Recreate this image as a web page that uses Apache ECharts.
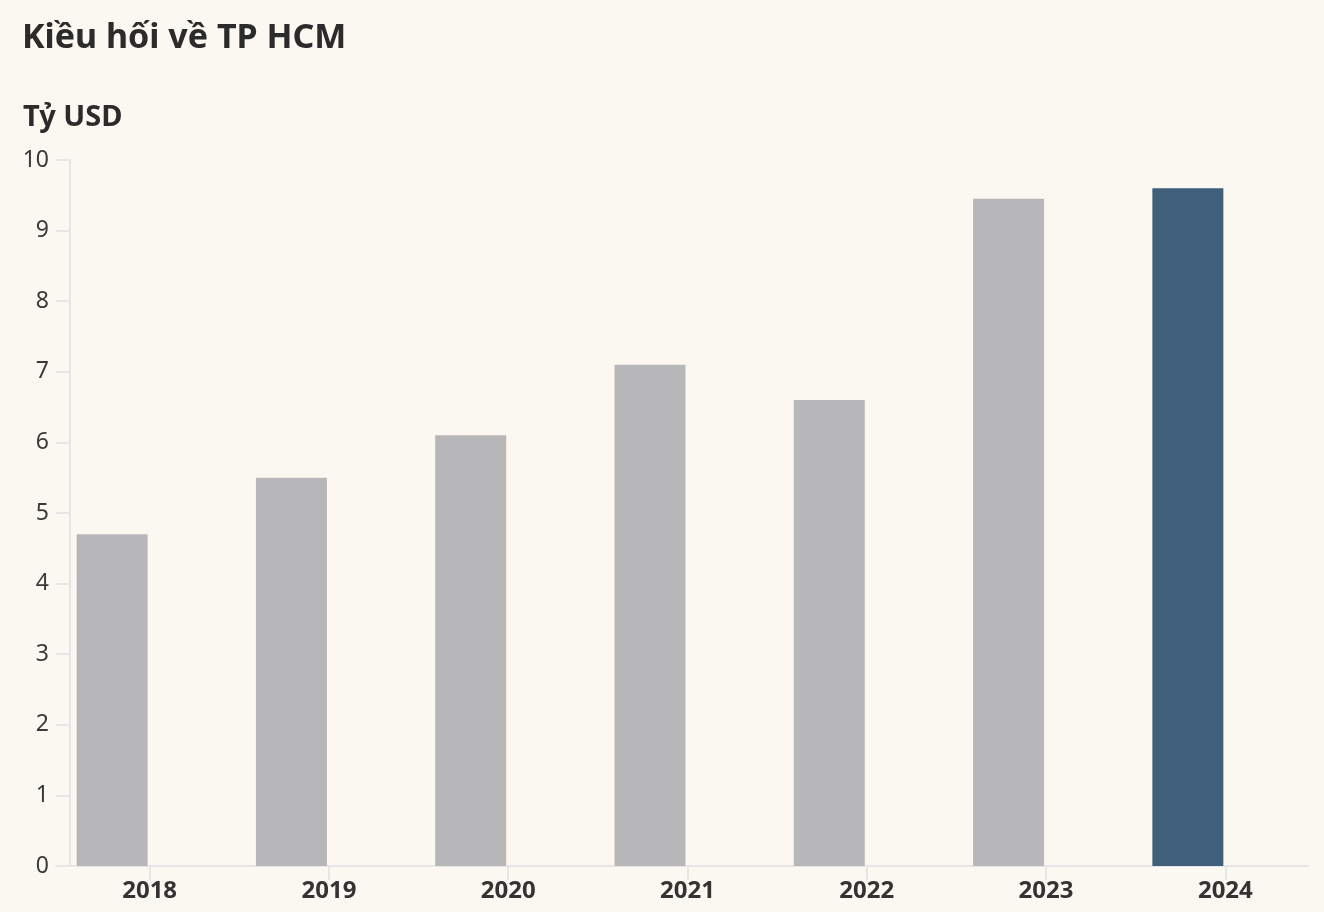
<!DOCTYPE html>
<html>
<head>
<meta charset="utf-8">
<script src="https://cdn.jsdelivr.net/npm/echarts@6/dist/echarts.min.js"></script>
<style>
html,body{margin:0;padding:0;background:#fbf8f2;}
#c{width:1324px;height:912px;}
</style>
</head>
<body>
<div id="c"></div>
<script>
const titleText = 'Kiều hối về TP HCM';
const unitText = 'Tỷ USD';
const categories = ['2018', '2019', '2020', '2021', '2022', '2023', '2024'];
const values = [4.7, 5.5, 6.1, 7.1, 6.6, 9.45, 9.6];
const highlightYear = '2024';
const yTicks = [0, 1, 2, 3, 4, 5, 6, 7, 8, 9, 10];

const FONT = '"Noto Sans", sans-serif';
const chart = echarts.init(document.getElementById('c'), null, {renderer: 'canvas'});

const barData = values.map((v, i) => ({
  value: v,
  itemStyle: {color: categories[i] === highlightYear ? '#3f5f7a' : '#b7b7b9'}
}));

chart.setOption({
  backgroundColor: '#fbf8f2',
  animation: false,
  title: [
    {text: titleText, left: 17, top: 16,
     textStyle: {fontFamily: FONT, fontWeight: 'bold', fontSize: 34, color: '#2b2b2b'}},
    {text: unitText, left: 18, top: 98,
     textStyle: {fontFamily: FONT, fontWeight: 'bold', fontSize: 29, color: '#2b2b2b'}}
  ],
  grid: [
    {left: 60, right: 9, top: 160, bottom: 46, containLabel: false},
    {left: 56, right: 16, top: 160, bottom: 46, containLabel: false}
  ],
  xAxis: [
    {type: 'category', data: categories, gridIndex: 0,
     axisLine: {show: false},
     axisTick: {show: true, alignWithLabel: true, length: 14, lineStyle: {color: '#e6e6e8', width: 2}},
     axisLabel: {fontFamily: FONT, fontWeight: 'bold', fontSize: 24, color: '#333', margin: 13}},
    {type: 'value', gridIndex: 1, min: 0, max: 1,
     axisLine: {show: true, onZero: false, lineStyle: {color: '#e6e6e8', width: 2}},
     axisTick: {show: false}, axisLabel: {show: false}, splitLine: {show: false}}
  ],
  yAxis: [
    {type: 'value', gridIndex: 0, min: yTicks[0], max: yTicks[yTicks.length - 1], interval: 1,
     offset: -10,
     axisLine: {show: true, lineStyle: {color: '#e6e6e8', width: 2}},
     axisTick: {show: true, length: 14, lineStyle: {color: '#e6e6e8', width: 2}},
     axisLabel: {fontFamily: FONT, fontSize: 23, color: '#3a3a3a', margin: 21},
     splitLine: {show: false}},
    {type: 'value', gridIndex: 1, min: 0, max: 1, show: false}
  ],
  series: [
    {type: 'bar', xAxisIndex: 0, yAxisIndex: 0, data: barData, barWidth: 71, barGap: '0%'},
    {type: 'bar', xAxisIndex: 0, yAxisIndex: 0, data: categories.map(() => '-'), barWidth: 75, barGap: '0%', silent: true}
  ]
});
</script>
</body>
</html>
